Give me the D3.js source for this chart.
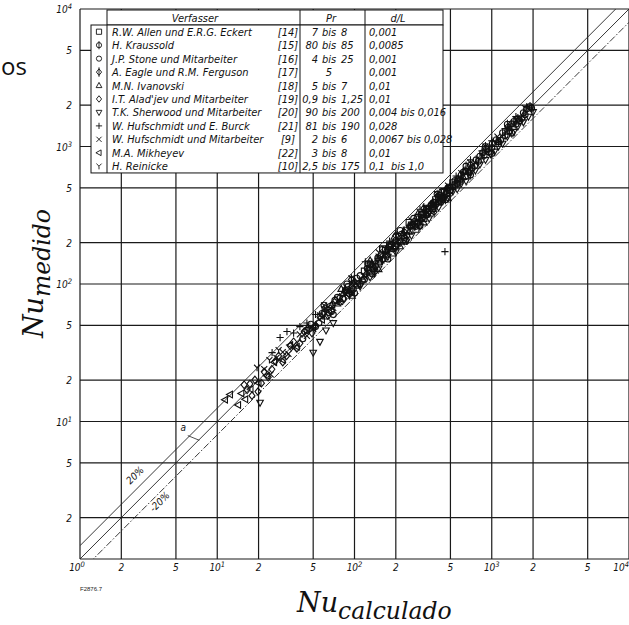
<!DOCTYPE html>
<html>
<head>
<meta charset="utf-8">
<script src="https://cdn.jsdelivr.net/npm/d3@7"></script>
<style>
  body { margin: 0; background: #fff; }
  svg { display: block; }
  .tbl { font-family: "Liberation Sans Narrow", "DejaVu Sans Condensed", sans-serif; font-style: italic; font-size: 11px; fill: #111; }
  .tick { font-family: "Liberation Sans Narrow", "DejaVu Sans Condensed", sans-serif; font-style: italic; font-size: 10px; fill: #111; }
</style>
</head>
<body>
<script>
const width = 629;
const height = 625;

// Achsen (log-log), Teilstriche
const tickVals = [1, 2, 5, 10, 20, 50, 100, 200, 500, 1000, 2000, 5000, 10000];

// Legende
const symbols = ['square', 'circleBar', 'circle', 'diamondBar', 'triUp', 'diamond', 'triDown', 'plus', 'cross', 'triLeft', 'ypsilon'];
const authors = ['R.W. Allen und E.R.G. Eckert', 'H. Kraussold', 'J.P. Stone und Mitarbeiter', 'A. Eagle und R.M. Ferguson',
  'M.N. Ivanovski', "I.T. Alad'jev und Mitarbeiter", 'T.K. Sherwood und Mitarbeiter', 'W. Hufschmidt und E. Burck',
  'W. Hufschmidt und Mitarbeiter', 'M.A. Mikheyev', 'H. Reinicke'];
const refs = ['[14]', '[15]', '[16]', '[17]', '[18]', '[19]', '[20]', '[21]', '[9]', '[22]', '[10]'];
const prFrom = ['7', '80', '4', '', '5', '0,9', '90', '81', '2', '3', '2,5'];
const prTo = ['8', '85', '25', '', '7', '1,25', '200', '190', '6', '8', '175'];
const prSingle = ['', '', '', '5', '', '', '', '', '', '', ''];
const dL = ['0,001', '0,0085', '0,001', '0,001', '0,01', '0,01', '0,004 bis 0,016', '0,028', '0,0067 bis 0,028', '0,01', '0,1  bis 1,0'];

// Messpunkte [Nu berechnet, Nu gemessen]
const allen = [[105,100],[118,124],[132,126],[150,145],[160,180],[168,175],[180,188],[190,168],[198,190],[215,205],[238,246],[250,280],[260,268],[280,250],[285,272],[290,305],[310,320],[320,300],[340,330],[370,355],[390,410],[410,425],[430,415],[450,470],[470,455],[495,480],[520,545],[540,525],[580,560],[640,610]];
const kraussold = [[310,300],[330,318],[335,350],[360,372],[375,390],[390,378],[400,450],[410,430],[420,405],[440,425],[450,468],[460,410],[480,500],[500,480],[520,505],[540,565],[560,540],[590,575],[600,620],[620,650],[640,665],[650,720],[680,650],[700,730],[700,620],[720,700],[750,720],[770,800],[800,780],[820,850],[860,900],[880,860],[900,1000],[920,960],[950,915],[1000,980],[1000,890],[1010,1050],[1080,1120],[1120,1080],[1160,1110],[1200,1260],[1250,1200],[1300,1450],[1320,1380],[1350,1300],[1400,1460],[1400,1250],[1450,1520],[1500,1450],[1550,1600],[1600,1540],[1650,1600],[1700,1760],[1750,1700],[1800,1880],[1900,1950],[1950,1900]];
const stone = [[42,40],[45,46],[48,51],[52,49],[55,52],[58,61],[60,70],[61,66],[65,62],[68,63],[70,60],[72,76],[75,80],[79,74],[82,78],[86,90],[88,100],[90,96],[94,88],[98,92],[100,86],[104,110],[110,115],[114,106],[118,108],[124,130],[125,140],[130,138],[135,118],[136,128],[142,135],[148,155],[155,160],[160,178],[162,152],[170,162],[175,152],[178,186],[185,195],[192,180],[200,188],[210,222],[215,245],[220,230],[230,218],[235,205],[240,226],[252,262],[265,270],[270,300],[278,262],[290,280],[300,265],[305,318],[320,330],[335,318],[350,338],[365,380],[380,392],[420,440],[470,455]];
const eagle = [[85,88],[92,84],[95,108],[100,104],[110,100],[122,118],[134,140],[140,122],[148,152],[160,150],[175,180],[192,198],[200,225],[210,200],[230,240],[240,210],[255,262],[275,265],[300,292],[320,355],[330,345],[360,372],[380,335],[395,380],[430,420],[470,490]];
const ivanovski = [[62,58],[68,70],[75,72],[80,92],[83,86],[92,90],[96,82],[102,97],[115,108],[126,130],[130,148],[140,132],[150,128],[155,148],[170,176],[186,180],[195,220],[205,196],[215,188],[226,235],[250,240],[275,285],[290,325],[305,295],[320,280],[335,320],[370,380],[410,395],[420,465],[450,440],[480,420],[500,515],[560,580],[620,600],[680,660]];
const aladjev = [[15.7,18.5],[16.5,17],[17.3,18.8],[18.8,20.1],[17.9,15.4],[19.8,16.5],[21,19],[22,23],[23.5,21],[25,24],[26.5,27.5],[28,30],[30,27],[32,30],[34,35.5],[36,38],[38,34],[40,37],[43,45],[46,48],[49,44],[52,50],[56,58],[60,62],[64,59],[68,64],[73,76],[78,80],[84,78],[90,86]];
const sherwood = [[20.5,13.7],[50,31.7],[56,38],[62,46],[70,52],[110,96],[130,112],[150,130],[175,158],[200,170],[230,205],[260,225],[300,262],[350,300],[380,350],[410,360],[440,400],[480,420],[520,470],[560,490],[600,540],[650,560],[700,640],[760,670],[820,740],[900,800],[980,880],[1050,920],[1120,1000],[1200,1050],[1300,1180],[1450,1280],[1550,1400],[1700,1500],[1850,1650],[2000,1780]];
const burck = [[25.1,31.7],[28.7,40.8],[32.2,45.1],[36,44],[40,49],[45,52],[52,60],[120,145],[180,205],[300,350],[456,172],[550,610],[700,800],[850,930],[1000,1100],[1250,1350],[1500,1650],[1800,1950]];
const hufschmidt = [[22,24],[24.5,22],[27,29],[30,32],[33,31],[36,34],[40,43],[45,42],[50,47],[56,59],[62,66],[70,67],[78,74],[86,90],[95,100],[105,98],[120,112],[135,142],[150,158],[170,165]];
const mikheyev = [[11.4,14.4],[12.4,15.7],[14.2,13.2],[15,16],[16,14.5],[17.5,17.2],[20,19],[23,21.5],[26,27],[30,28],[34,36],[38,35],[44,46],[50,48],[58,55],[66,70]];
const reinicke = [[19.5,24.6],[24,28],[28,33],[60,70],[95,110],[150,170],[260,290],[330,360],[400,450],[480,520],[600,640],[700,760],[900,1000],[1100,1180],[1300,1350],[1500,1580],[1750,1900]];

const seriesData = [allen, kraussold, stone, eagle, ivanovski, aladjev, sherwood, burck, hufschmidt, mikheyev, reinicke];

// Vergleichslinien: +20 %, Mittel, -20 %
const ratios = [1.25, 1, 0.8];
const ratioDash = [null, null, '7,2,1.5,2'];

const x = d3.scaleLog().domain([1, 1e4]).range([80, 629]);
const y = d3.scaleLog().domain([1, 1e4]).range([559, 9]);

const svg = d3.select('body').append('svg')
  .attr('width', width)
  .attr('height', height);

svg.append('rect').attr('width', width).attr('height', height).attr('fill', '#fff');

svg.append('clipPath').attr('id', 'plot')
  .append('rect')
  .attr('x', x(1)).attr('y', y(1e4))
  .attr('width', x(1e4) - x(1)).attr('height', y(1) - y(1e4));

// Gitter
const grid = svg.append('g').attr('stroke', '#1a1a1a').attr('stroke-width', 1.2);
grid.selectAll('line.v').data(tickVals).enter().append('line')
  .attr('x1', d => x(d)).attr('x2', d => x(d))
  .attr('y1', y(1e4)).attr('y2', y(1));
grid.selectAll('line.h').data(tickVals).enter().append('line')
  .attr('y1', d => y(d)).attr('y2', d => y(d))
  .attr('x1', x(1)).attr('x2', x(1e4));

// Beschriftung der Achsen
function tickLabel(sel, d) {
  const e = Math.log10(d);
  if (Number.isInteger(e)) {
    sel.append('tspan').text('10');
    sel.append('tspan').attr('dy', -4).attr('font-size', 7.5).text(e);
  } else {
    sel.text(String(d).charAt(0));
  }
}
svg.selectAll('text.xt').data(tickVals).enter().append('text')
  .attr('class', 'tick')
  .attr('x', d => d === 1e4 ? x(d) : x(d) - (d === 1 ? 3 : 0))
  .attr('y', 571)
  .attr('text-anchor', d => d === 1e4 ? 'end' : 'middle')
  .each(function(d) { tickLabel(d3.select(this), d); });
svg.selectAll('text.yt').data(tickVals.filter(d => d > 1)).enter().append('text')
  .attr('class', 'tick')
  .attr('x', 72)
  .attr('y', d => y(d) + 4)
  .attr('text-anchor', 'end')
  .each(function(d) { tickLabel(d3.select(this), d); });

// Linien
const lineGen = d3.line().x(d => x(d[0])).y(d => y(d[1]));
svg.append('g').attr('clip-path', 'url(#plot)')
  .selectAll('path').data(ratios).enter().append('path')
  .attr('d', r => lineGen([[1, r], [1e4, r * 1e4]]))
  .attr('fill', 'none')
  .attr('stroke', '#222')
  .attr('stroke-width', 0.9)
  .attr('stroke-dasharray', (r, i) => ratioDash[i]);

// Symbole
function symPath(type, r) {
  const c = `M${r},0A${r},${r} 0 1,1 ${-r},0A${r},${r} 0 1,1 ${r},0Z`;
  switch (type) {
    case 'square': return `M${-r},${-r}H${r}V${r}H${-r}Z`;
    case 'circle': return c;
    case 'circleBar': return c + `M0,${-r - 1.5}V${r + 1.5}`;
    case 'diamond': return `M0,${-r * 1.25}L${r},0L0,${r * 1.25}L${-r},0Z`;
    case 'diamondBar': return `M0,${-r * 1.25}L${r},0L0,${r * 1.25}L${-r},0Z` + `M0,${-r * 1.25 - 1.5}V${r * 1.25 + 1.5}`;
    case 'triUp': return `M0,${-r * 1.2}L${r * 1.1},${r * 0.8}L${-r * 1.1},${r * 0.8}Z`;
    case 'triDown': return `M0,${r * 1.2}L${r * 1.1},${-r * 0.8}L${-r * 1.1},${-r * 0.8}Z`;
    case 'triLeft': return `M${-r * 1.2},0L${r * 0.8},${-r * 1.1}L${r * 0.8},${r * 1.1}Z`;
    case 'plus': return `M${-r * 1.2},0H${r * 1.2}M0,${-r * 1.2}V${r * 1.2}`;
    case 'cross': return `M${-r},${-r}L${r},${r}M${r},${-r}L${-r},${r}`;
    case 'ypsilon': return `M0,${r * 1.2}V0L${-r},${-r}M0,0L${r},${-r}`;
  }
}

const pts = svg.append('g').attr('clip-path', 'url(#plot)');
seriesData.forEach((data, i) => {
  pts.selectAll(null).data(data).enter().append('path')
    .attr('transform', d => `translate(${x(d[0])},${y(d[1])})`)
    .attr('d', symPath(symbols[i], 3))
    .attr('fill', 'none')
    .attr('stroke', '#111')
    .attr('stroke-width', 1.1);
});

// Beschriftung an den Linien
const notes = [
  { t: '20%', xv: 2.62, yv: 3.9 },
  { t: '-20%', xv: 3.96, yv: 2.5 }
];
svg.selectAll('text.note').data(notes).enter().append('text')
  .attr('class', 'tick')
  .attr('font-size', 11)
  .attr('text-anchor', 'middle')
  .attr('transform', d => `translate(${x(d.xv)},${y(d.yv)}) rotate(-45)`)
  .text(d => d.t);
svg.append('text').attr('class', 'tick').attr('font-size', 12)
  .attr('x', x(5.4)).attr('y', y(8.6)).text('a');
svg.append('line')
  .attr('x1', x(6.1)).attr('y1', y(7.9))
  .attr('x2', x(7.4)).attr('y2', y(7.3))
  .attr('stroke', '#222').attr('stroke-width', 0.8);

// Tabelle
const tbl = svg.append('g');
const rowH = 13.45, tblTop = 25;
tbl.append('rect').attr('x', 107).attr('y', 10).attr('width', 336).attr('height', 15)
  .attr('fill', '#fff').attr('stroke', '#111').attr('stroke-width', 1);
tbl.append('rect').attr('x', 91).attr('y', tblTop).attr('width', 352).attr('height', rowH * 11)
  .attr('fill', '#fff').attr('stroke', '#111').attr('stroke-width', 1);
[107, 300, 365].forEach(cx => tbl.append('line')
  .attr('x1', cx).attr('x2', cx).attr('y1', cx === 107 ? tblTop : 10).attr('y2', tblTop + rowH * 11)
  .attr('stroke', '#111').attr('stroke-width', 1));
tbl.append('text').attr('class', 'tbl').attr('x', 195).attr('y', 21.5).attr('text-anchor', 'middle').text('Verfasser');
tbl.append('text').attr('class', 'tbl').attr('x', 331).attr('y', 21.5).attr('text-anchor', 'middle').text('Pr');
tbl.append('text').attr('class', 'tbl').attr('x', 398).attr('y', 21.5).attr('text-anchor', 'middle').text('d/L');

const rows = tbl.selectAll('g.row').data(authors).enter().append('g')
  .attr('transform', (d, i) => `translate(0,${tblTop + rowH * (i + 0.5)})`);
rows.append('path').attr('transform', 'translate(99,0)')
  .attr('d', (d, i) => symPath(symbols[i], 2.6))
  .attr('fill', 'none').attr('stroke', '#111').attr('stroke-width', 0.9);
rows.append('text').attr('class', 'tbl').attr('x', 112).attr('y', 4).text(d => d);
rows.append('text').attr('class', 'tbl').attr('x', 288).attr('y', 4).attr('text-anchor', 'middle').text((d, i) => refs[i]);
rows.append('text').attr('class', 'tbl').attr('x', 318).attr('y', 4).attr('text-anchor', 'end').text((d, i) => prFrom[i]);
rows.append('text').attr('class', 'tbl').attr('x', 329).attr('y', 4).attr('text-anchor', 'middle').text((d, i) => prSingle[i] || 'bis');
rows.append('text').attr('class', 'tbl').attr('x', 341).attr('y', 4).text((d, i) => prTo[i]);
rows.append('text').attr('class', 'tbl').attr('x', 369).attr('y', 4).attr('xml:space', 'preserve').text((d, i) => dL[i]);

// kleine Bildnummer
svg.append('text').attr('x', 80).attr('y', 591)
  .attr('font-family', 'Liberation Sans Narrow, sans-serif').attr('font-size', 6).attr('fill', '#222')
  .text('F2876.7');

// Achsentitel
const xl = svg.append('text').attr('x', 297).attr('y', 612)
  .attr('font-family', 'DejaVu Serif, serif').attr('font-style', 'italic').attr('font-size', 27).attr('fill', '#111');
xl.append('tspan').text('Nu');
xl.append('tspan').attr('dy', 7).attr('font-size', 23.5).text('calculado');

const yl = svg.append('text').attr('transform', 'translate(43,338) rotate(-90)')
  .attr('font-family', 'DejaVu Serif, serif').attr('font-style', 'italic').attr('font-size', 27).attr('fill', '#111');
yl.append('tspan').text('Nu');
yl.append('tspan').attr('dy', 7).attr('font-size', 23.5).text('medido');

svg.append('text').attr('x', 1).attr('y', 75)
  .attr('font-family', 'Open Sans, sans-serif').attr('font-size', 24).attr('fill', '#111').text('os');
</script>
</body>
</html>
